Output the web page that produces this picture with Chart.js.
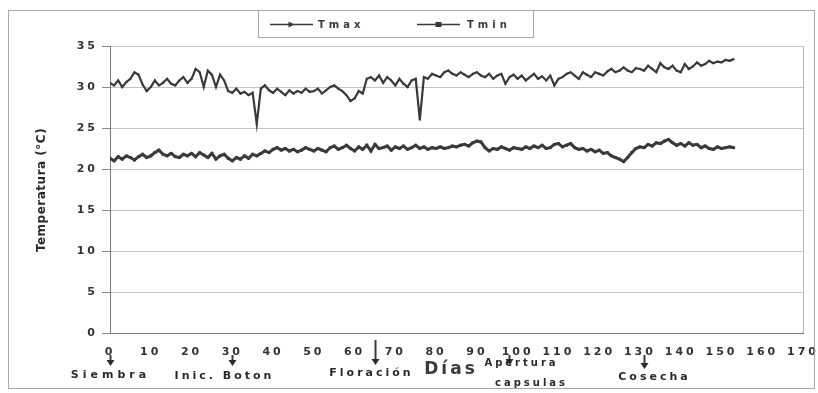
<!DOCTYPE html>
<html>
<head>
<meta charset="utf-8">
<script src="https://cdn.jsdelivr.net/npm/chart.js@4/dist/chart.umd.min.js"></script>
<style>
  html, body { margin: 0; padding: 0; background: #fff; }
  #wrap { position: relative; width: 818px; height: 393px; }
</style>
</head>
<body>
<div id="wrap"><canvas id="tempChart"></canvas></div>
<script>
// daily temperatures, day 0 .. 153
const tmax = [
  30.5, 30.2, 30.8, 30.0, 30.6, 31.0, 31.8, 31.5, 30.3, 29.5, 30.0,
  30.8, 30.2, 30.5, 31.0, 30.4, 30.2, 30.8, 31.2, 30.5, 31.0,
  32.2, 31.8, 30.0, 32.0, 31.5, 30.0, 31.5, 30.8, 29.5, 29.3,
  29.8, 29.2, 29.4, 29.0, 29.3, 25.5, 29.8, 30.2, 29.6, 29.3,
  29.8, 29.4, 29.0, 29.6, 29.2, 29.5, 29.3, 29.8, 29.4, 29.5,
  29.8, 29.2, 29.6, 30.0, 30.2, 29.8, 29.5, 29.0, 28.3, 28.6,
  29.5, 29.2, 31.0, 31.2, 30.8, 31.4, 30.5, 31.2, 30.8, 30.2,
  31.0, 30.4, 30.0, 30.8, 31.0, 26.0, 31.2, 31.0, 31.6, 31.4,
  31.2, 31.8, 32.0, 31.6, 31.4, 31.8, 31.5, 31.2, 31.6, 31.8,
  31.4, 31.2, 31.6, 31.0, 31.4, 31.6, 30.4, 31.2, 31.5, 31.0,
  31.4, 30.8, 31.2, 31.6, 31.0, 31.3, 30.8, 31.4, 30.2, 31.0,
  31.2, 31.6, 31.8, 31.4, 31.0, 31.8, 31.5, 31.2, 31.8, 31.6,
  31.4, 31.9, 32.2, 31.8, 32.0, 32.4, 32.0, 31.8, 32.3, 32.2,
  32.0, 32.6, 32.2, 31.8, 32.9, 32.4, 32.2, 32.6, 32.0, 31.8,
  32.8, 32.2, 32.5, 33.0, 32.6, 32.8, 33.2, 32.9, 33.1, 33.0,
  33.3, 33.2, 33.4
];
const tmin = [
  21.3, 21.0, 21.5, 21.2, 21.6, 21.4, 21.1, 21.5, 21.8, 21.4, 21.6,
  22.0, 22.3, 21.8, 21.6, 21.9, 21.5, 21.4, 21.8, 21.6, 21.9,
  21.5, 22.0, 21.7, 21.4, 21.9, 21.2, 21.6, 21.8, 21.3, 21.0,
  21.4, 21.2, 21.6, 21.3, 21.8, 21.6, 21.9, 22.2, 22.0, 22.4,
  22.6, 22.3, 22.5, 22.2, 22.4, 22.1, 22.3, 22.6, 22.4, 22.2,
  22.5, 22.3, 22.1, 22.6, 22.8, 22.4, 22.6, 22.9, 22.5, 22.2,
  22.7, 22.4, 22.9, 22.2, 23.0, 22.5, 22.6, 22.8, 22.3, 22.7,
  22.5, 22.8, 22.4, 22.6, 22.9, 22.5, 22.7, 22.4, 22.6, 22.5,
  22.7, 22.5, 22.6, 22.8, 22.7, 22.9, 23.0, 22.8, 23.2, 23.4,
  23.3, 22.6, 22.2, 22.5, 22.4, 22.7, 22.5, 22.3, 22.6, 22.5,
  22.4, 22.7, 22.5, 22.8, 22.6, 22.9, 22.5, 22.6, 23.0, 23.1,
  22.7, 22.9, 23.1, 22.6, 22.4, 22.5, 22.2, 22.4, 22.1, 22.3,
  21.9, 22.0, 21.6, 21.4, 21.2, 20.9, 21.4, 22.0, 22.5, 22.7,
  22.6, 23.0, 22.8, 23.2, 23.1, 23.4, 23.6, 23.2, 22.9, 23.1,
  22.8, 23.2, 22.9, 23.0, 22.6, 22.8, 22.5, 22.4, 22.7, 22.5,
  22.6, 22.7, 22.6
];
const seriesNames = ['Tmax', 'Tmin'];
const xTitle = 'Días';
const yTitle = 'Temperatura (°C)';
// crop stages marked under the day axis
const stageNames = ['Siembra', 'Inic. Boton', 'Floración', 'Apertura', 'Cosecha'];
const stageSub = ['', '', '', 'capsulas', ''];
const stageDays = [0, 30, 65, 98, 131];

const ink = '#3a3a3a';
const bold11 = 'bold 11px "DejaVu Sans"';

function toPoints(arr) {
  return arr.map((v, i) => ({ x: i, y: v }));
}

function arrow(ctx, x, y1, y2) {
  ctx.beginPath();
  ctx.moveTo(x, y1);
  ctx.lineTo(x, y2 - 5);
  ctx.stroke();
  ctx.beginPath();
  ctx.moveTo(x - 4, y2 - 6);
  ctx.lineTo(x + 4, y2 - 6);
  ctx.lineTo(x, y2);
  ctx.closePath();
  ctx.fill();
}

const spacing = {
  id: 'spacing',
  beforeLayout(chart) { chart.ctx.letterSpacing = '3px'; },
  beforeDraw(chart) { chart.ctx.letterSpacing = '3px'; }
};

const frame = {
  id: 'frame',
  beforeDatasetsDraw(chart) {
    const ctx = chart.ctx, a = chart.chartArea;
    ctx.save();
    ctx.strokeStyle = '#b5b5b5';
    ctx.lineWidth = 1;
    ctx.beginPath();
    ctx.moveTo(a.right + 0.5, a.top);
    ctx.lineTo(a.right + 0.5, a.bottom);
    ctx.stroke();
    ctx.restore();
  },
  afterDraw(chart) {
    const ctx = chart.ctx, xs = chart.scales.x;
    ctx.save();
    // outer frame
    ctx.strokeStyle = '#a8a8a8';
    ctx.lineWidth = 1;
    ctx.strokeRect(8.5, 10.5, 806, 378);

    // legend box
    ctx.fillStyle = '#fff';
    ctx.fillRect(258, 10, 276, 28);
    ctx.strokeRect(258.5, 10.5, 275, 27);
    const items = [
      { x0: 270, x1: 313, tx: 318, style: 'tri' },
      { x0: 417, x1: 460, tx: 467, style: 'rect' }
    ];
    items.forEach((it, i) => {
      const y = 24.5;
      ctx.strokeStyle = ink;
      ctx.fillStyle = ink;
      ctx.lineWidth = 1.5;
      ctx.beginPath();
      ctx.moveTo(it.x0, y);
      ctx.lineTo(it.x1, y);
      ctx.stroke();
      const mx = (it.x0 + it.x1) / 2;
      if (it.style === 'tri') {
        ctx.beginPath();
        ctx.moveTo(mx - 3, y - 3);
        ctx.lineTo(mx + 3, y);
        ctx.lineTo(mx - 3, y + 3);
        ctx.closePath();
        ctx.fill();
      } else {
        ctx.fillRect(mx - 3, y - 2.5, 6, 5);
      }
      ctx.font = 'bold 10px "DejaVu Sans"';
      ctx.letterSpacing = '4px';
      ctx.textAlign = 'left';
      ctx.textBaseline = 'middle';
      ctx.fillStyle = '#3a3a3a';
      ctx.fillText(seriesNames[i], it.tx, y + 1);
    });

    // y title
    ctx.save();
    ctx.translate(42, 190);
    ctx.rotate(-Math.PI / 2);
    ctx.font = 'bold 12px "DejaVu Sans"';
    ctx.letterSpacing = '0.5px';
    ctx.textAlign = 'center';
    ctx.textBaseline = 'middle';
    ctx.fillStyle = '#2a2a2a';
    ctx.fillText(yTitle, 0, 0);
    ctx.restore();

    // x title
    ctx.font = 'bold 17px "DejaVu Sans"';
    ctx.letterSpacing = '3px';
    ctx.textAlign = 'center';
    ctx.textBaseline = 'middle';
    ctx.fillStyle = ink;
    ctx.fillText(xTitle, 451, 370);

    // stage arrows and names
    const textDx = [0, -8, -4, 12, 10];
    const textY = [375, 376, 373, 363, 377];
    const arrowTop = [355, 355, 340, 355, 355];
    const arrowBot = [366, 366, 365, 365, 369];
    ctx.strokeStyle = ink;
    ctx.fillStyle = '#2a2a2a';
    ctx.lineWidth = 2;
    stageDays.forEach((d, i) => {
      const px = Math.round(xs.getPixelForValue(d)) + 0.5;
      arrow(ctx, px, arrowTop[i], arrowBot[i]);
      ctx.font = stageSub[i] ? 'bold 10px "DejaVu Sans"' : bold11;
      ctx.letterSpacing = stageSub[i] ? '3px' : (i === 0 ? '4px' : '3px');
      ctx.fillText(stageNames[i], px + textDx[i], textY[i]);
      if (stageSub[i]) ctx.fillText(stageSub[i], px + textDx[i] + 10, textY[i] + 20);
    });
    ctx.restore();
  }
};

new Chart(document.getElementById('tempChart'), {
  type: 'scatter',
  data: {
    datasets: [
      {
        label: seriesNames[0],
        data: toPoints(tmax),
        showLine: true,
        borderColor: ink,
        backgroundColor: ink,
        borderWidth: 2.2,
        pointStyle: 'triangle',
        pointRadius: 1.6,
        pointBorderWidth: 0,
        tension: 0
      },
      {
        label: seriesNames[1],
        data: toPoints(tmin),
        showLine: true,
        borderColor: ink,
        backgroundColor: ink,
        borderWidth: 3,
        pointStyle: 'rect',
        pointRadius: 2,
        pointBorderWidth: 0,
        tension: 0
      }
    ]
  },
  options: {
    responsive: true,
    maintainAspectRatio: false,
    animation: false,
    layout: { padding: { left: 28, right: 15, top: 46, bottom: 0 } },
    plugins: {
      legend: { display: false },
      tooltip: { enabled: false }
    },
    scales: {
      x: {
        type: 'linear',
        min: 0,
        max: 170,
        afterFit(s) { s.height = 60; s.paddingLeft = 0; s.paddingRight = 0; },
        grid: { display: false, drawTicks: false },
        border: { display: true, color: '#7a7a7a', width: 1 },
        ticks: {
          stepSize: 10,
          padding: 13,
          maxRotation: 0,
          color: '#333',
          font: { family: 'DejaVu Sans', size: 11, weight: 'bold' }
        }
      },
      y: {
        min: 0,
        max: 35,
        afterFit(s) { s.width = 82; s.paddingTop = 0; s.paddingBottom = 0; },
        grid: { color: '#c4c4c4', tickLength: 8, tickColor: '#8a8a8a' },
        border: { display: true, color: '#7a7a7a', width: 1 },
        ticks: {
          stepSize: 5,
          padding: 4,
          color: '#333',
          font: { family: 'DejaVu Sans', size: 11, weight: 'bold' }
        }
      }
    }
  },
  plugins: [spacing, frame]
});
</script>
</body>
</html>
